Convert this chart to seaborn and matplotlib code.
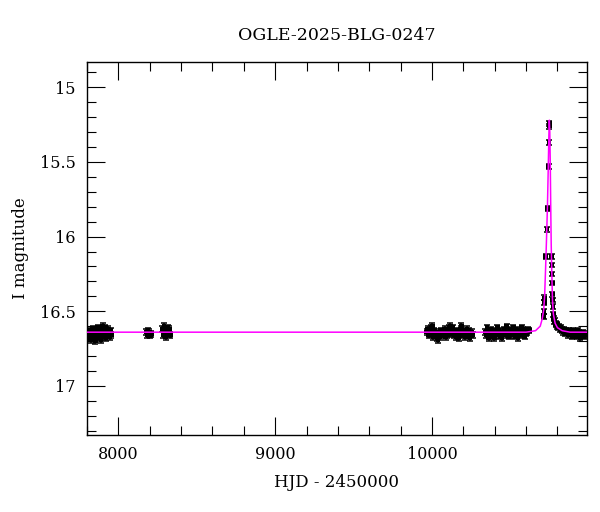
import numpy as np
import pandas as pd
import matplotlib
matplotlib.use("Agg")
import matplotlib.pyplot as plt
from matplotlib.ticker import MultipleLocator
import seaborn as sns

# ---------------- data ----------------
title = "OGLE-2025-BLG-0247"
xlabel = "HJD - 2450000"
ylabel = "I magnitude"

t_2017 = [7802, 7806, 7810, 7815, 7819, 7823, 7828, 7832, 7836, 7841, 7845, 7850,
          7854, 7858, 7863, 7867, 7872, 7876, 7881, 7885, 7890, 7894, 7899, 7903,
          7908, 7912, 7917, 7922, 7927, 7932, 7937, 7942, 7947, 7952, 7956]
m_2017 = [16.65, 16.67, 16.64, 16.68, 16.66, 16.63, 16.69, 16.65, 16.62, 16.67, 16.64, 16.66,
          16.70, 16.63, 16.65, 16.61, 16.68, 16.64, 16.66, 16.62, 16.69, 16.65, 16.60, 16.67,
          16.63, 16.65, 16.61, 16.68, 16.64, 16.66, 16.62, 16.65, 16.67, 16.63, 16.66]
e_2017 = 0.02

t_2018a = [8178, 8183, 8188, 8193, 8198, 8204, 8210]
m_2018a = [16.64, 16.66, 16.63, 16.65, 16.64, 16.66, 16.65]
t_2018b = [8278, 8284, 8290, 8296, 8302, 8308, 8314, 8320, 8326, 8332]
m_2018b = [16.62, 16.66, 16.60, 16.64, 16.67, 16.63, 16.61, 16.65, 16.62, 16.66]
e_2018 = 0.02

t_2023 = [9966, 9972, 9978, 9984, 9990, 9996, 10002, 10008, 10014, 10020, 10026, 10032,
          10038, 10044, 10050, 10056, 10062, 10068, 10074, 10080, 10086, 10092, 10098, 10104,
          10110, 10116, 10122, 10128, 10134, 10140, 10146, 10152, 10158, 10164, 10170, 10176,
          10182, 10188, 10194, 10200, 10206, 10212, 10218, 10224, 10230, 10236, 10242, 10248,
          10254, 10260]
m_2023 = [16.64, 16.62, 16.66, 16.63, 16.65, 16.61, 16.60, 16.67, 16.63, 16.66, 16.64, 16.68,
          16.69, 16.65, 16.67, 16.63, 16.66, 16.64, 16.65, 16.62, 16.67, 16.64, 16.66, 16.63,
          16.61, 16.60, 16.65, 16.62, 16.61, 16.66, 16.64, 16.67, 16.63, 16.65, 16.68, 16.64,
          16.62, 16.60, 16.66, 16.63, 16.65, 16.67, 16.64, 16.62, 16.66, 16.63, 16.68, 16.65,
          16.64, 16.66]
e_2023 = 0.02

t_2024 = [10338, 10344, 10350, 10356, 10362, 10368, 10374, 10380, 10386, 10392, 10398, 10404,
          10410, 10416, 10422, 10428, 10434, 10440, 10446, 10452, 10458, 10464, 10470, 10476,
          10482, 10488, 10494, 10500, 10506, 10512, 10518, 10524, 10530, 10536, 10542, 10548,
          10554, 10560, 10566, 10572, 10578, 10584, 10590, 10596, 10602, 10608, 10614, 10620]
m_2024 = [16.64, 16.66, 16.61, 16.65, 16.68, 16.64, 16.62, 16.67, 16.65, 16.63, 16.68, 16.64,
          16.66, 16.61, 16.65, 16.63, 16.67, 16.64, 16.68, 16.65, 16.62, 16.64, 16.66, 16.60,
          16.65, 16.67, 16.64, 16.62, 16.66, 16.65, 16.61, 16.64, 16.67, 16.62, 16.65, 16.68,
          16.63, 16.64, 16.66, 16.61, 16.62, 16.64, 16.67, 16.63, 16.65, 16.64, 16.62, 16.63]
e_2024 = 0.018

t_2025 = [10712, 10713, 10716, 10717, 10725, 10733, 10737, 10744, 10746, 10748, 10749,
          10762, 10765, 10766, 10767, 10768, 10769, 10771, 10773,
          10776, 10780, 10784, 10788, 10792, 10796, 10800, 10805, 10810, 10815, 10820, 10826,
          10832, 10838, 10844, 10850, 10856, 10862, 10868, 10874, 10880, 10886, 10892, 10898,
          10904, 10910, 10916, 10922, 10928, 10934, 10940, 10946, 10952, 10958, 10964, 10970,
          10976, 10982]
m_2025 = [16.535, 16.50, 16.44, 16.41, 16.135, 15.95, 15.81, 15.53, 15.37, 15.26, 15.24,
          16.135, 16.19, 16.25, 16.31, 16.385, 16.425, 16.47, 16.52,
          16.55, 16.57, 16.56, 16.59, 16.58, 16.60, 16.59, 16.61, 16.60, 16.62, 16.61, 16.63,
          16.62, 16.64, 16.62, 16.65, 16.63, 16.64, 16.66, 16.63, 16.65, 16.64, 16.67, 16.63,
          16.66, 16.64, 16.65, 16.67, 16.63, 16.66, 16.64, 16.68, 16.65, 16.66, 16.64, 16.67,
          16.65, 16.66]
e_2025 = 0.016

# model curve (magenta)
model_t = [7800, 10600, 10660, 10690, 10703, 10712, 10718, 10724, 10730, 10736, 10741, 10745,
           10748, 10751, 10754, 10757, 10760, 10764, 10768, 10774, 10785, 10800, 10830, 10880,
           11000]
model_m = [16.64, 16.64, 16.63, 16.60, 16.55, 16.49, 16.40, 16.22, 16.02, 15.80, 15.55, 15.33,
           15.22, 15.30, 15.50, 15.80, 16.05, 16.25, 16.42, 16.52, 16.58, 16.61, 16.63, 16.64,
           16.64]

xlim = (7800, 10987)
ylim = (17.33, 14.83)

# ---------------- build table ----------------
frames = []
for t, m, e in [(t_2017, m_2017, e_2017), (t_2018a, m_2018a, e_2018), (t_2018b, m_2018b, e_2018),
                (t_2023, m_2023, e_2023), (t_2024, m_2024, e_2024), (t_2025, m_2025, e_2025)]:
    frames.append(pd.DataFrame({"hjd": t, "mag": m, "err": e}))
obs = pd.concat(frames, ignore_index=True)
model = pd.DataFrame({"hjd": model_t, "mag": model_m})

# ---------------- plot ----------------
sns.set_theme(style="ticks")
plt.rcParams["font.family"] = ["DejaVu Serif"]
plt.rcParams["font.size"] = 11.5
for k in ["text.color", "axes.labelcolor", "xtick.color", "ytick.color", "axes.edgecolor"]:
    plt.rcParams[k] = "black"

fig = plt.figure(figsize=(6.0, 5.12), dpi=100)
ax = fig.add_axes([0.145, 0.150, 0.833, 0.729])

ax.errorbar(obs["hjd"], obs["mag"], yerr=obs["err"], fmt="none", ecolor="black",
            elinewidth=1.1, capsize=2.0, capthick=1.1, zorder=2)
sns.scatterplot(data=obs, x="hjd", y="mag", ax=ax, marker="s", s=11, color="black",
                edgecolor="none", linewidth=0, zorder=3, legend=False)
sns.lineplot(data=model, x="hjd", y="mag", ax=ax, sort=False, estimator=None,
             color="#ff00ff", linewidth=1.1, zorder=4)

ax.set_xlim(*xlim)
ax.set_ylim(*ylim)
ax.xaxis.set_major_locator(MultipleLocator(1000))
ax.xaxis.set_minor_locator(MultipleLocator(200))
ax.yaxis.set_major_locator(MultipleLocator(0.5))
ax.yaxis.set_minor_locator(MultipleLocator(0.1))
ax.yaxis.set_major_formatter(matplotlib.ticker.FuncFormatter(lambda v, p: f"{v:g}"))
ax.tick_params(which="both", direction="in", top=True, right=True, colors="black",
               labelcolor="black", labelsize=11.5, width=0.8)
ax.tick_params(which="major", length=13, pad=8)
ax.tick_params(which="minor", length=6.5)
for s in ax.spines.values():
    s.set_linewidth(1.0)
    s.set_color("black")

ax.set_xlabel(xlabel, fontsize=12, labelpad=8, color="black")
ax.set_ylabel(ylabel, fontsize=12, labelpad=8, color="black")
ax.set_title(title, fontsize=12.5, pad=16, color="black")

fig.savefig("out.png", dpi=100)
